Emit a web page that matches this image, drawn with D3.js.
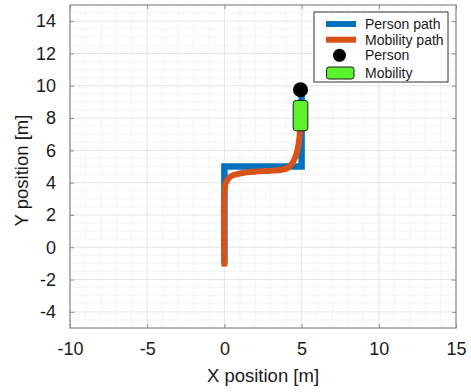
<!DOCTYPE html>
<html>
<head>
<meta charset="utf-8">
<script src="https://cdn.jsdelivr.net/npm/d3@7"></script>
<style>
  body { margin: 0; background: #fff; }
  svg { display: block; font-family: "Liberation Sans", Arial, sans-serif; }
</style>
</head>
<body>
<div id="chart"></div>
<script>
// data
const xTicks = [-10, -5, 0, 5, 10, 15];
const yTicks = [-4, -2, 0, 2, 4, 6, 8, 10, 12, 14];
const xMinor = d3.range(-10, 15.01, 1);
const yMinor = d3.range(-5, 15.01, 0.5);

const personPath = [[0, -1], [0, 5], [5, 5], [5, 9.7]];
const mobilityPath = [
  [0, -1.2], [0, 3.4], [0.08, 3.95], [0.3, 4.3], [0.6, 4.47], [1.2, 4.6],
  [2, 4.68], [3, 4.74], [3.7, 4.8], [4.1, 4.9], [4.4, 5.2], [4.6, 5.6],
  [4.75, 6.1], [4.85, 6.7], [4.9, 7.3], [4.93, 8.1]
];
const person = { x: 4.93, y: 9.75 };
const mobility = { x: 4.93, y: 8.15, w: 0.95, h: 1.88 };

const legendItems = ["Person path", "Mobility path", "Person", "Mobility"];

const width = 471, height = 392;
const margin = { top: 5, right: 15, bottom: 64, left: 70 };

const svg = d3.select("#chart").append("svg")
  .attr("width", width)
  .attr("height", height);

const x = d3.scaleLinear().domain([-10, 15]).range([margin.left, width - margin.right]);
const y = d3.scaleLinear().domain([-5, 15]).range([height - margin.bottom, margin.top]);

const blue = "#0072bd", orange = "#d95319", green = "#5cf22e";
const fmt = d => String(d); // plain hyphen minus, like the original

// grid
const grid = svg.append("g");
grid.selectAll(".vm").data(xMinor).enter().append("line")
  .attr("x1", d => x(d)).attr("x2", d => x(d))
  .attr("y1", y(-5)).attr("y2", y(15))
  .attr("stroke", "#dedede").attr("stroke-width", 0.8)
  .attr("stroke-dasharray", d => xTicks.includes(d) ? null : "1,1.5");
grid.selectAll(".hm").data(yMinor).enter().append("line")
  .attr("y1", d => y(d)).attr("y2", d => y(d))
  .attr("x1", x(-10)).attr("x2", x(15))
  .attr("stroke", "#dedede").attr("stroke-width", 0.8)
  .attr("stroke-dasharray", d => yTicks.includes(d) ? null : "1,1.5");

// paths
const line = d3.line().x(d => x(d[0])).y(d => y(d[1]));

svg.append("path")
  .attr("d", line(personPath))
  .attr("fill", "none")
  .attr("stroke", blue)
  .attr("stroke-width", 6.5)
  .attr("stroke-linejoin", "miter");

svg.append("path")
  .attr("d", line.curve(d3.curveCatmullRom.alpha(0.5))(mobilityPath))
  .attr("fill", "none")
  .attr("stroke", orange)
  .attr("stroke-width", 6)
  .attr("stroke-linecap", "butt");

// mobility and person
const mw = x(mobility.w) - x(0), mh = y(0) - y(mobility.h);
svg.append("rect")
  .attr("x", x(mobility.x) - mw / 2)
  .attr("y", y(mobility.y) - mh / 2)
  .attr("width", mw)
  .attr("height", mh)
  .attr("rx", 3)
  .attr("fill", green)
  .attr("stroke", "#1a1a1a")
  .attr("stroke-width", 1);

svg.append("circle")
  .attr("cx", x(person.x))
  .attr("cy", y(person.y))
  .attr("r", 7.5)
  .attr("fill", "#000");

// axes box and ticks
const axisColor = "#8a8a8a";
svg.append("g")
  .attr("transform", `translate(0,${y(-5)})`)
  .call(d3.axisBottom(x).tickValues(xTicks).tickFormat(fmt).tickSize(-4).tickPadding(14).tickSizeOuter(0))
  .call(g => g.select(".domain").remove())
  .call(g => g.selectAll("line").attr("stroke", axisColor))
  .call(g => g.selectAll("text").attr("fill", "#1a1a1a").style("font-size", "18px"));

svg.append("g")
  .attr("transform", `translate(0,${y(15)})`)
  .call(d3.axisTop(x).tickValues(xTicks).tickSize(-4).tickFormat("").tickSizeOuter(0))
  .call(g => g.select(".domain").remove())
  .call(g => g.selectAll("line").attr("stroke", axisColor));

svg.append("g")
  .attr("transform", `translate(${x(-10)},0)`)
  .call(d3.axisLeft(y).tickValues(yTicks).tickFormat(fmt).tickSize(-4).tickPadding(14).tickSizeOuter(0))
  .call(g => g.select(".domain").remove())
  .call(g => g.selectAll("line").attr("stroke", axisColor))
  .call(g => g.selectAll("text").attr("fill", "#1a1a1a").style("font-size", "18px"));

svg.append("g")
  .attr("transform", `translate(${x(15)},0)`)
  .call(d3.axisRight(y).tickValues(yTicks).tickSize(-4).tickFormat("").tickSizeOuter(0))
  .call(g => g.select(".domain").remove())
  .call(g => g.selectAll("line").attr("stroke", axisColor));

svg.append("rect")
  .attr("x", x(-10)).attr("y", y(15))
  .attr("width", x(15) - x(-10)).attr("height", y(-5) - y(15))
  .attr("fill", "none")
  .attr("stroke", axisColor)
  .attr("stroke-width", 1.2);

// axis labels
svg.append("text")
  .attr("x", (x(-10) + x(15)) / 2)
  .attr("y", 382)
  .attr("text-anchor", "middle")
  .style("font-size", "18.5px")
  .attr("fill", "#1a1a1a")
  .text("X position [m]");

svg.append("text")
  .attr("transform", `translate(27.5,${(y(-5) + y(15)) / 2 + 4}) rotate(-90)`)
  .attr("text-anchor", "middle")
  .style("font-size", "18.5px")
  .attr("fill", "#1a1a1a")
  .text("Y position [m]");

// legend
const lg = svg.append("g");
lg.append("rect")
  .attr("x", 314).attr("y", 12)
  .attr("width", 134).attr("height", 70)
  .attr("fill", "#fff")
  .attr("stroke", "#333")
  .attr("stroke-width", 1);

const rowY = [24, 39.7, 55.3, 73];
const ly = d3.scaleOrdinal().domain(legendItems).range(rowY);

lg.append("line")
  .attr("x1", 326).attr("x2", 356)
  .attr("y1", ly("Person path")).attr("y2", ly("Person path"))
  .attr("stroke", blue).attr("stroke-width", 6);
lg.append("line")
  .attr("x1", 326).attr("x2", 356)
  .attr("y1", ly("Mobility path")).attr("y2", ly("Mobility path"))
  .attr("stroke", orange).attr("stroke-width", 6);
lg.append("circle")
  .attr("cx", 339.5).attr("cy", ly("Person"))
  .attr("r", 6.5).attr("fill", "#000");
lg.append("rect")
  .attr("x", 326.5).attr("y", ly("Mobility") - 6)
  .attr("width", 27.5).attr("height", 12)
  .attr("rx", 2.5)
  .attr("fill", green).attr("stroke", "#1a1a1a").attr("stroke-width", 1);

lg.selectAll(".lt").data(legendItems).enter().append("text")
  .attr("x", 365)
  .attr("y", d => ly(d) + 5)
  .style("font-size", "14px")
  .attr("fill", "#1a1a1a")
  .text(d => d);
</script>
</body>
</html>
